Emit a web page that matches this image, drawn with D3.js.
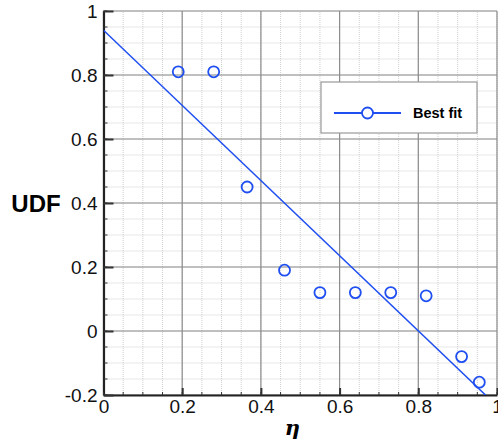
<!DOCTYPE html>
<html>
<head>
<meta charset="utf-8">
<script src="https://cdn.jsdelivr.net/npm/d3@7"></script>
<style>
  body { margin: 0; background: #fff; }
  svg { display: block; font-family: "Liberation Sans", Arial, Helvetica, sans-serif; }
</style>
</head>
<body>
<svg id="chart" width="498" height="442"></svg>
<script>
// measured points
var etaVals = [0.19, 0.28, 0.365, 0.46, 0.55, 0.64, 0.73, 0.82, 0.91, 0.955];
var udfVals = [0.81, 0.81, 0.45, 0.19, 0.12, 0.12, 0.12, 0.11, -0.08, -0.16];
// best fit line end points
var fitEta = [0, 0.975];
var fitUdf = [0.94, -0.205];
var xTicks = [0, 0.2, 0.4, 0.6, 0.8, 1];
var yTicks = [-0.2, 0, 0.2, 0.4, 0.6, 0.8, 1];
var legendLabel = "Best fit";

var blue = "#1f4ff0";
var margin = {left: 103.5, top: 11, right: 1, bottom: 47};
var W = 498, H = 442;

var svg = d3.select("#chart");
var x = d3.scaleLinear().domain([0, 1]).range([margin.left, W - margin.right]);
var y = d3.scaleLinear().domain([-0.2, 1]).range([H - margin.bottom, margin.top]);

var minorX = d3.range(0, 1.0001, 0.05), minorY = d3.range(-0.2, 1.0001, 0.05);
var fmt = function(d){ return String(+d.toFixed(2)); };  // plain hyphen minus

// minor grid, dotted
var g = svg.append("g");
g.selectAll(".mx").data(minorX).enter().append("line")
  .attr("x1", d => x(d)).attr("x2", d => x(d))
  .attr("y1", y(-0.2)).attr("y2", y(1))
  .style("stroke", "#cfcfcf").style("stroke-width", 1).style("stroke-dasharray", "1,1");
g.selectAll(".my").data(minorY).enter().append("line")
  .attr("y1", d => y(d)).attr("y2", d => y(d))
  .attr("x1", x(0)).attr("x2", x(1))
  .style("stroke", "#cfcfcf").style("stroke-width", 1).style("stroke-dasharray", "1,1");

// major grid
g.selectAll(".Mx").data(xTicks).enter().append("line")
  .attr("x1", d => x(d)).attr("x2", d => x(d))
  .attr("y1", y(-0.2)).attr("y2", y(1))
  .style("stroke", "#8c8c8c").style("stroke-width", 1.2);
g.selectAll(".My").data(yTicks).enter().append("line")
  .attr("y1", d => y(d)).attr("y2", d => y(d))
  .attr("x1", x(0)).attr("x2", x(1))
  .style("stroke", "#8c8c8c").style("stroke-width", 1.2);

// axes (ticks pointing inward)
var xAxis = svg.append("g").attr("transform", "translate(0," + y(-0.2) + ")")
  .call(d3.axisBottom(x).tickValues(xTicks).tickSizeInner(-7).tickSizeOuter(0).tickPadding(8)
    .tickFormat(fmt));
var yAxis = svg.append("g").attr("transform", "translate(" + x(0) + ",0)")
  .call(d3.axisLeft(y).tickValues(yTicks).tickSizeInner(-10).tickSizeOuter(0).tickPadding(6)
    .tickFormat(fmt));
[xAxis, yAxis].forEach(function(a){
  a.select(".domain").style("stroke", "#222").style("stroke-width", 2.2);
  a.selectAll(".tick line").style("stroke", "#333").style("stroke-width", 2);
  a.selectAll("text").style("font-size", "19px").style("fill", "#111");
});
xAxis.selectAll("text").attr("dy", "0.55em");
// minor ticks
svg.append("g").selectAll("line").data(minorX).enter().append("line")
  .attr("x1", d => x(d)).attr("x2", d => x(d)).attr("y1", y(-0.2)).attr("y2", y(-0.2) - 3)
  .style("stroke", "#333").style("stroke-width", 1);
svg.append("g").selectAll("line").data(minorY).enter().append("line")
  .attr("y1", d => y(d)).attr("y2", d => y(d)).attr("x1", x(0)).attr("x2", x(0) + 4)
  .style("stroke", "#333").style("stroke-width", 1);

// clip
svg.append("clipPath").attr("id", "clip").append("rect")
  .attr("x", x(0)).attr("y", y(1)).attr("width", x(1) - x(0)).attr("height", y(-0.2) - y(1));

var line = d3.line().x(d => x(d[0])).y(d => y(d[1]));
svg.append("path").datum(d3.zip(fitEta, fitUdf))
  .attr("clip-path", "url(#clip)")
  .attr("d", line).style("fill", "none").style("stroke", blue).style("stroke-width", 1.5);

svg.append("g").selectAll("circle").data(d3.zip(etaVals, udfVals)).enter().append("circle")
  .attr("cx", d => x(d[0])).attr("cy", d => y(d[1])).attr("r", 5.5)
  .style("fill", "none").style("stroke", blue).style("stroke-width", 1.8);

// axis titles
svg.append("text").attr("x", 36).attr("y", y(0.4)).attr("dy", "0.36em")
  .attr("text-anchor", "middle").style("font-size", "24px").style("font-weight", "bold").text("UDF");
svg.append("text").attr("x", x(0.48)).attr("y", 435)
  .attr("text-anchor", "middle").style("font-size", "21px").style("font-weight", "bold")
  .style("font-style", "italic").style("font-family", "'DejaVu Serif', serif").text("η");

// legend
var lg = svg.append("g");
lg.append("rect").attr("x", 321).attr("y", 82).attr("width", 156).attr("height", 51)
  .style("fill", "#fff").style("stroke", "#999").style("stroke-width", 1.2);
lg.append("line").attr("x1", 334).attr("x2", 401).attr("y1", 113).attr("y2", 113)
  .style("stroke", blue).style("stroke-width", 1.8);
lg.append("circle").attr("cx", 367.5).attr("cy", 113).attr("r", 5.5)
  .style("fill", "#fff").style("stroke", blue).style("stroke-width", 1.8);
lg.append("text").attr("x", 413).attr("y", 113).attr("dy", "0.36em")
  .style("font-size", "14.5px").style("font-weight", "bold").text(legendLabel);
</script>
</body>
</html>
